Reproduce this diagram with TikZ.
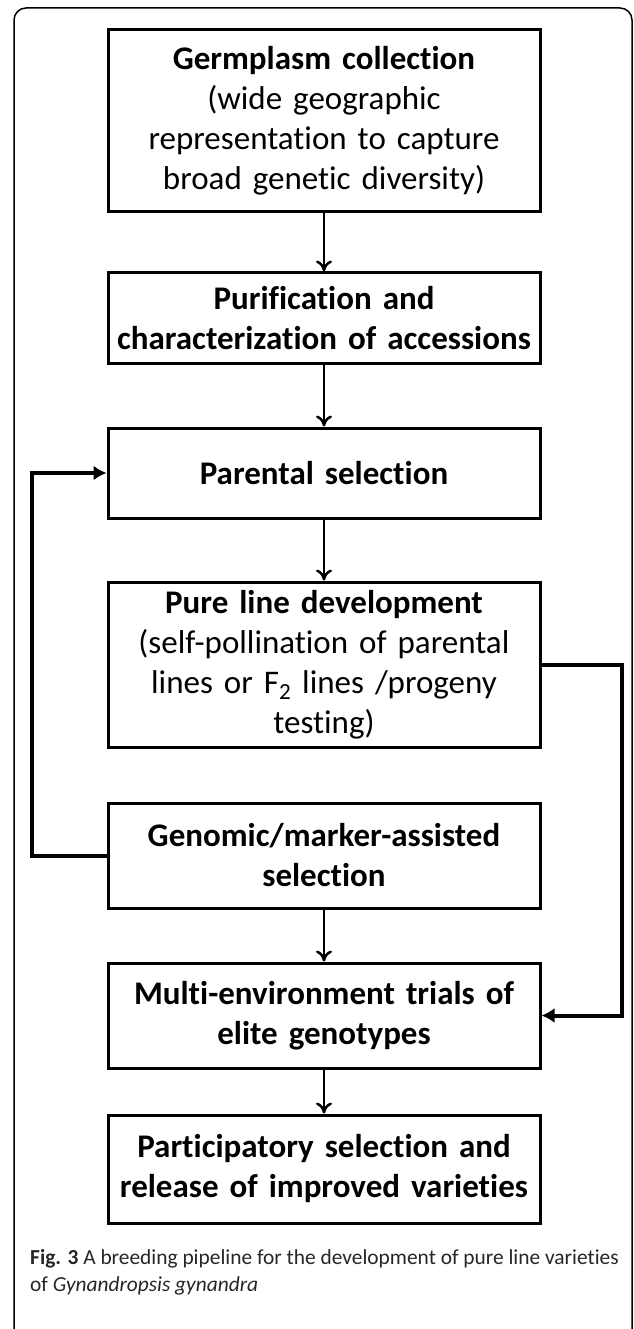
\documentclass[tikz,border=0pt]{standalone}
\usepackage{fontspec}
\setmainfont{Carlito}[Ligatures=NoCommon]
\usepackage{tikz}
\usetikzlibrary{arrows.meta,positioning}

\begin{document}
\begin{tikzpicture}[x=1pt, y=-1pt]
\tikzstyle{stage}=[rectangle, draw=black, line width=3pt, minimum width=432pt, text width=420pt, align=center, inner sep=3pt, font=\fontsize{33pt}{40pt}\selectfont]
\tikzstyle{connect}=[-{To[length=11pt,width=16pt]}, line width=2.5pt]
\tikzstyle{feedback}=[-{Latex[length=13pt,width=15pt]}, line width=4pt]
\tikzstyle{caption}=[anchor=north west, align=left, inner sep=0pt, text=black!85, font=\fontsize{21.4pt}{27pt}\selectfont]

  \useasboundingbox (0,0) rectangle (633,1329);
  \draw[line width=1.5pt, rounded corners=12pt] (14,1345) -- (14,8) -- (632,8) -- (632,1345);

  \node[stage, minimum height=182pt] (germ) at (324,121) {\textbf{Germplasm collection}\\ (wide geographic\\ representation to capture\\ broad genetic diversity)};
  \node[stage, minimum height=90pt, below=58pt of germ] (purif) {\textbf{Purification and}\\ \textbf{characterization of accessions}};
  \node[stage, minimum height=90pt, below=62pt of purif] (parent) {\textbf{Parental selection}};
  \node[stage, minimum height=165pt, below=61pt of parent] (pure) {\textbf{Pure line development}\\ (self-pollination of parental\\ lines or F\textsubscript{2} lines /progeny\\ testing)};
  \node[stage, minimum height=105pt, below=53pt of pure] (genom) {\textbf{Genomic/marker-assisted}\\ \textbf{selection}};
  \node[stage, minimum height=105pt, below=52pt of genom] (trials) {\textbf{Multi-environment trials of}\\ \textbf{elite genotypes}};
  \node[stage, minimum height=108pt, below=44pt of trials] (partic) {\textbf{Participatory selection and}\\ \textbf{release of improved varieties}};

  \node[caption] (cap) at (30,1249) {\textbf{Fig. 3} A breeding pipeline for the development of pure line varieties\\ of \textit{Gynandropsis gynandra}};

  \draw[connect] (germ) -- (purif);
  \draw[connect] (purif) -- (parent);
  \draw[connect] (parent) -- (pure);
  \draw[connect] (genom) -- (trials);
  \draw[connect] (trials) -- (partic);

  \draw[feedback] (genom.west) -- ++(-75,0) |- (parent.west);
  \draw[feedback] (pure.east) -- ++(80,0) |- (trials.east);

\end{tikzpicture}
\end{document}
